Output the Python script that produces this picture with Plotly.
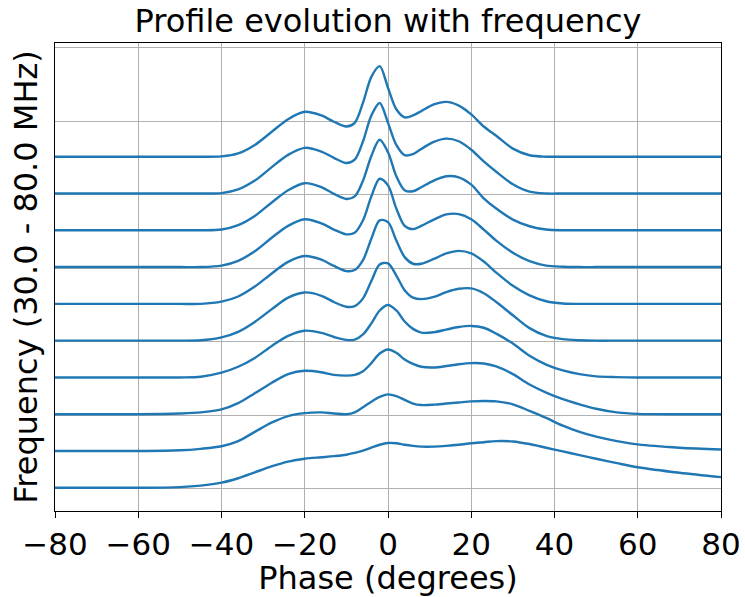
import plotly.graph_objects as go

# Phase knots (degrees)
PHASE = [-80, -60, -50, -45, -40, -36, -32, -28, -24, -20, -16, -13, -10, -8, -6, -4, -2, 0, 2, 4,
         6, 8, 11, 14, 17, 20, 23, 26, 30, 34, 38, 42, 46, 50, 55, 60, 70, 80]

# Normalised profiles (lowest frequency first)
P0 = [0.03, 0.03, 0.05, 0.09, 0.17, 0.29, 0.45, 0.61, 0.74, 0.82, 0.86, 0.89, 0.93, 0.98, 1.04, 1.12, 1.20, 1.25, 1.24, 1.20,
      1.17, 1.15, 1.15, 1.17, 1.20, 1.24, 1.27, 1.30, 1.29, 1.22, 1.12, 1.02, 0.92, 0.82, 0.70, 0.59, 0.44, 0.32]
P1 = [0.03, 0.03, 0.05, 0.09, 0.16, 0.30, 0.55, 0.80, 0.98, 1.06, 1.08, 1.05, 1.03, 1.08, 1.22, 1.37, 1.50, 1.57, 1.52, 1.42,
      1.32, 1.28, 1.29, 1.32, 1.35, 1.38, 1.39, 1.38, 1.30, 1.12, 0.93, 0.72, 0.55, 0.42, 0.30, 0.21, 0.12, 0.07]
P2 = [0.03, 0.03, 0.05, 0.08, 0.16, 0.33, 0.60, 0.88, 1.12, 1.21, 1.17, 1.10, 1.08, 1.10, 1.20, 1.42, 1.68, 1.79, 1.70, 1.52,
      1.40, 1.32, 1.30, 1.34, 1.39, 1.42, 1.41, 1.33, 1.12, 0.84, 0.62, 0.44, 0.30, 0.18, 0.08, 0.04, 0.03, 0.03]
P3 = [0.03, 0.03, 0.03, 0.05, 0.16, 0.32, 0.56, 0.88, 1.16, 1.30, 1.24, 1.13, 1.05, 1.06, 1.20, 1.50, 1.85, 2.00, 1.85, 1.55,
      1.35, 1.25, 1.26, 1.33, 1.40, 1.43, 1.38, 1.22, 0.95, 0.62, 0.38, 0.22, 0.12, 0.06, 0.04, 0.03, 0.03, 0.03]
P4 = [0.03, 0.03, 0.03, 0.04, 0.12, 0.27, 0.54, 0.88, 1.20, 1.34, 1.25, 1.08, 0.95, 0.97, 1.18, 1.65, 2.10, 2.13, 1.80, 1.40,
      1.20, 1.16, 1.22, 1.35, 1.44, 1.45, 1.32, 1.08, 0.72, 0.37, 0.16, 0.07, 0.04, 0.03, 0.03, 0.03, 0.03, 0.03]
P5 = [0.03, 0.03, 0.03, 0.03, 0.09, 0.23, 0.50, 0.85, 1.17, 1.33, 1.23, 1.06, 0.92, 0.95, 1.22, 1.80, 2.30, 2.25, 1.75, 1.30,
      1.12, 1.12, 1.25, 1.40, 1.47, 1.40, 1.18, 0.88, 0.52, 0.26, 0.10, 0.04, 0.03, 0.03, 0.03, 0.03, 0.03, 0.03]
P6 = [0.03, 0.03, 0.03, 0.03, 0.07, 0.20, 0.46, 0.82, 1.15, 1.33, 1.22, 1.05, 0.92, 0.96, 1.30, 1.95, 2.43, 2.25, 1.62, 1.15,
      1.06, 1.15, 1.32, 1.46, 1.47, 1.33, 1.05, 0.75, 0.42, 0.19, 0.07, 0.04, 0.03, 0.03, 0.03, 0.03, 0.03, 0.03]
P7 = [0.03, 0.03, 0.03, 0.03, 0.05, 0.17, 0.42, 0.78, 1.12, 1.31, 1.20, 1.02, 0.88, 0.95, 1.38, 2.05, 2.49, 2.15, 1.50, 1.12,
      1.09, 1.20, 1.38, 1.50, 1.47, 1.27, 0.90, 0.62, 0.32, 0.14, 0.05, 0.03, 0.03, 0.03, 0.03, 0.03, 0.03, 0.03]
P8 = [0.03, 0.03, 0.03, 0.03, 0.04, 0.14, 0.38, 0.74, 1.08, 1.27, 1.17, 1.00, 0.86, 0.95, 1.45, 2.15, 2.49, 1.95, 1.35, 1.07,
      1.10, 1.24, 1.43, 1.52, 1.45, 1.22, 0.90, 0.62, 0.28, 0.08, 0.03, 0.03, 0.03, 0.03, 0.03, 0.03, 0.03, 0.03]
P9 = [0.03, 0.03, 0.03, 0.03, 0.04, 0.12, 0.35, 0.70, 1.05, 1.25, 1.15, 0.98, 0.85, 0.95, 1.50, 2.20, 2.49, 1.90, 1.32, 1.10,
      1.15, 1.27, 1.45, 1.52, 1.42, 1.18, 0.85, 0.60, 0.25, 0.07, 0.03, 0.03, 0.03, 0.03, 0.03, 0.03, 0.03, 0.03]

PROFILES = [P0, P1, P2, P3, P4, P5, P6, P7, P8, P9]
OFFSETS = [0, 1, 2, 3, 4, 5, 6, 7, 8, 9]

XTICKS = [-80, -60, -40, -20, 0, 20, 40, 60, 80]
XTICKTEXT = ["\u221280", "\u221260", "\u221240", "\u221220", "0", "20", "40", "60", "80"]
YGRID = [0, 2, 4, 6, 8, 10, 12]

FONT = "DejaVu Sans"
BLUE = "#1f77b4"

fig = go.Figure()
for prof, off in zip(PROFILES, OFFSETS):
    fig.add_trace(go.Scatter(
        x=PHASE, y=[v + off for v in prof], mode="lines",
        line=dict(color=BLUE, width=2.4, shape="spline", smoothing=0.9),
        showlegend=False, hoverinfo="skip"))

fig.update_layout(
    width=745, height=597,
    margin=dict(l=55, r=24, t=43, b=86),
    paper_bgcolor="white", plot_bgcolor="white",
    font=dict(family=FONT, color="black"),
    title=dict(text="Profile evolution with frequency", font=dict(size=32, family=FONT),
               x=(55 + 721) / 2 / 745, xanchor="center", y=0.965, yanchor="middle"),
    xaxis=dict(range=[-80, 80], tickvals=XTICKS, ticktext=XTICKTEXT,
               showgrid=True, gridcolor="#b0b0b0", gridwidth=1.2,
               showline=True, linecolor="black", linewidth=1.3, mirror=True,
               ticks="outside", ticklen=6, tickwidth=1.3, tickcolor="black",
               tickfont=dict(size=31, family=FONT), zeroline=False,
               title=dict(text="Phase (degrees)", font=dict(size=32, family=FONT), standoff=4),
               automargin=False),
    yaxis=dict(range=[-0.6, 12.12], tickvals=YGRID, showticklabels=False, ticks="",
               showgrid=True, gridcolor="#b0b0b0", gridwidth=1.2,
               showline=True, linecolor="black", linewidth=1.3, mirror=True, zeroline=False,
               title=dict(text="Frequency (30.0 - 80.0 MHz)", font=dict(size=32, family=FONT), standoff=6),
               automargin=False),
)

fig.write_html("out.html")
